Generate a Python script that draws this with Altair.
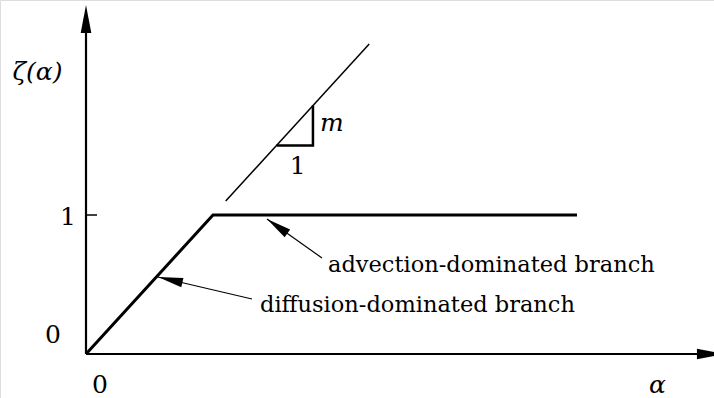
import math
import altair as alt
import pandas as pd

# ---- values -------------------------------------------------------------
# piecewise zeta(alpha): diffusion branch up to the kink, then the advection plateau
branch_alpha = [0.0, 1.0, 3.866]
branch_zeta = [0.0, 1.0, 1.0]

# continuation of the diffusion slope past the kink (slope m)
slope_alpha = [1.10, 2.23]
slope_zeta = [1.10, 2.23]

# slope triangle: run 1, rise m
tri_alpha = [1.5, 1.787, 1.787]
tri_zeta = [1.5, 1.5, 1.787]

# annotation arrows, tail -> tip
note_text = ["advection-dominated branch", "diffusion-dominated branch"]
note_tail_alpha = [1.858, 1.307]
note_tail_zeta = [0.691, 0.396]
note_tip_alpha = [1.425, 0.567]
note_tip_zeta = [0.971, 0.554]

# axis extents and tick labels
alpha_end = 5.031
zeta_end = 2.511
zeta_ticks = [1.0]
alpha_label_pos = 4.5
zeta_label_pos = 2.0

# ---- layout -------------------------------------------------------------
W, H = 714, 398
X_DOM = [-0.6772, 4.9449]
Y_DOM = [-0.3165, 2.5468]
KX = W / (X_DOM[1] - X_DOM[0])
KY = H / (Y_DOM[1] - Y_DOM[0])

FONT = "DejaVu Serif"
FS = 22.5      # annotation text
FS_LABEL = 25  # axis symbols and digits

xs = alt.Scale(domain=X_DOM, nice=False, zero=False)
ys = alt.Scale(domain=Y_DOM, nice=False, zero=False)


def X(field="a"):
    return alt.X(f"{field}:Q", scale=xs, axis=None)


def Y(field="z"):
    return alt.Y(f"{field}:Q", scale=ys, axis=None)


def heading(tail_a, tail_z, tip_a, tip_z):
    """Screen angle (deg, clockwise from up) of the arrow tail -> tip."""
    dx = (tip_a - tail_a) * KX
    dy = -(tip_z - tail_z) * KY
    return math.degrees(math.atan2(dx, -dy)) % 360


# arrowhead shapes with their tip at the symbol origin
AXIS_HEAD = "M0,0L0.38,2L-0.38,2Z"
NOTE_HEAD = "M0,0L0.38,2L-0.38,2Z"

# ---- data frames --------------------------------------------------------
branch_df = pd.DataFrame({"a": branch_alpha, "z": branch_zeta, "o": range(3)})
slope_df = pd.DataFrame({"a": slope_alpha, "z": slope_zeta, "o": range(2)})
tri_df = pd.DataFrame({"a": tri_alpha, "z": tri_zeta, "o": range(3)})

note_lines = pd.DataFrame({
    "a": note_tail_alpha + note_tip_alpha,
    "z": note_tail_zeta + note_tip_zeta,
    "k": [0, 1, 0, 1],
    "o": [0, 0, 1, 1],
})
note_heads = pd.DataFrame({
    "a": note_tip_alpha,
    "z": note_tip_zeta,
    "ang": [heading(note_tail_alpha[i], note_tail_zeta[i],
                    note_tip_alpha[i], note_tip_zeta[i]) for i in range(2)],
})
note_labels = pd.DataFrame({"a": note_tail_alpha, "z": note_tail_zeta, "t": note_text})

axis_lines = pd.DataFrame({
    "a": [0.0, 0.0, 0.0, alpha_end - 0.1],
    "z": [0.0, zeta_end - 0.1, 0.0, 0.0],
    "k": [0, 0, 1, 1],
    "o": [0, 1, 0, 1],
})
axis_heads = pd.DataFrame({"a": [0.0, alpha_end], "z": [zeta_end, 0.0], "ang": [0.0, 90.0]})
tick_df = pd.DataFrame({"a": [0.0] * len(zeta_ticks), "a2": [11 / KX] * len(zeta_ticks),
                        "z": zeta_ticks})

# ---- marks --------------------------------------------------------------
base_line = dict(color="black", strokeCap="butt", strokeJoin="miter")

branch = alt.Chart(branch_df).mark_line(strokeWidth=3, **base_line).encode(
    x=X(), y=Y(), order="o:Q")
slope = alt.Chart(slope_df).mark_line(strokeWidth=1.5, **base_line).encode(
    x=X(), y=Y(), order="o:Q")
tri = alt.Chart(tri_df).mark_line(strokeWidth=2.5, **base_line).encode(
    x=X(), y=Y(), order="o:Q")

axes = alt.Chart(axis_lines).mark_line(strokeWidth=2.2, **base_line).encode(
    x=X(), y=Y(), detail="k:N", order="o:Q")
axes_heads = alt.Chart(axis_heads).mark_point(
    shape=AXIS_HEAD, size=28 ** 2, filled=True, color="black", opacity=1, strokeWidth=0
).encode(x=X(), y=Y(), angle=alt.Angle("ang:Q", scale=None))
ticks = alt.Chart(tick_df).mark_rule(strokeWidth=1.5, color="black").encode(
    x=X(), x2="a2:Q", y=Y())

arrows = alt.Chart(note_lines).mark_line(strokeWidth=1.2, **base_line).encode(
    x=X(), y=Y(), detail="k:N", order="o:Q")
arrow_heads = alt.Chart(note_heads).mark_point(
    shape=NOTE_HEAD, size=25 ** 2, filled=True, color="black",
    opacity=1, strokeWidth=0
).encode(x=X(), y=Y(), angle=alt.Angle("ang:Q", scale=None))

txt = dict(font=FONT, color="black", baseline="alphabetic")

adv_label = alt.Chart(note_labels.iloc[[0]]).mark_text(
    align="left", dx=6, dy=14, fontSize=FS, **txt).encode(x=X(), y=Y(), text="t:N")
dif_label = alt.Chart(note_labels.iloc[[1]]).mark_text(
    align="left", dx=8, dy=13, fontSize=FS, **txt).encode(x=X(), y=Y(), text="t:N")


def label(text, a, z, dx, dy, italic=False):
    df = pd.DataFrame({"a": [a], "z": [z], "t": [text]})
    extra = {"fontStyle": "italic"} if italic else {}
    return alt.Chart(df).mark_text(
        align="center", dx=dx, dy=dy, fontSize=FS_LABEL, **txt, **extra
    ).encode(x=X(), y=Y(), text="t:N")


labels = [
    label("ζ(α)", 0.0, zeta_label_pos, -48.5, 4, italic=True),
    label("α", alpha_label_pos, 0.0, 0, 39, italic=True),
    label("0", 0.0, 0.0, -33, -11),
    label("0", 0.0, 0.0, 14, 39),
    label("1", 0.0, zeta_ticks[0], -18, 10),
    label("m", tri_alpha[2], (tri_zeta[1] + tri_zeta[2]) / 2, 19, 5.5, italic=True),
    label("1", (tri_alpha[0] + tri_alpha[1]) / 2, tri_zeta[0], 3, 28.5),
]

chart = alt.layer(
    axes, axes_heads, ticks, slope, tri, branch, arrows, arrow_heads,
    adv_label, dif_label, *labels
).properties(
    width=W, height=H, autosize=alt.AutoSizeParams(type="none"), padding=0
).configure_view(stroke=None).configure(background="white")

chart.save("out.html", embed_options={"renderer": "svg", "actions": False})
